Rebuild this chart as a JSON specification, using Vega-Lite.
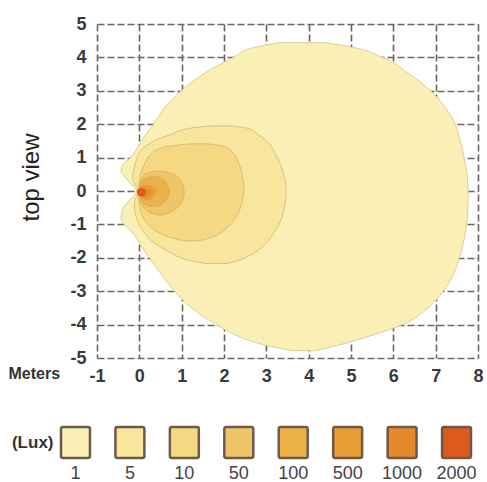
{
  "$schema": "https://vega.github.io/schema/vega-lite/v6.json",
  "padding": {"left": 8, "top": 15, "right": 0, "bottom": 0},
  "background": "white",
  "spacing": 40,
  "config": {"view": {"stroke": null}, "font": "Liberation Sans"},
  "datasets": {
    "contours": [
      {"lux": "1", "y": 4.44, "xl": 3.3, "xr": 4.4},
      {"lux": "1", "y": 4.3, "xl": 2.72, "xr": 5.05},
      {"lux": "1", "y": 4.0, "xl": 2.22, "xr": 5.75},
      {"lux": "1", "y": 3.5, "xl": 1.51, "xr": 6.38},
      {"lux": "1", "y": 3.0, "xl": 0.99, "xr": 6.88},
      {"lux": "1", "y": 2.5, "xl": 0.6, "xr": 7.23},
      {"lux": "1", "y": 2.0, "xl": 0.33, "xr": 7.46},
      {"lux": "1", "y": 1.5, "xl": 0.05, "xr": 7.58},
      {"lux": "1", "y": 1.2, "xl": -0.09, "xr": 7.64},
      {"lux": "1", "y": 1.0, "xl": -0.21, "xr": 7.67},
      {"lux": "1", "y": 0.8, "xl": -0.38, "xr": 7.7},
      {"lux": "1", "y": 0.6, "xl": -0.43, "xr": 7.73},
      {"lux": "1", "y": 0.4, "xl": -0.33, "xr": 7.75},
      {"lux": "1", "y": 0.2, "xl": -0.19, "xr": 7.76},
      {"lux": "1", "y": 0.0, "xl": -0.07, "xr": 7.77},
      {"lux": "1", "y": -0.2, "xl": -0.17, "xr": 7.77},
      {"lux": "1", "y": -0.4, "xl": -0.32, "xr": 7.76},
      {"lux": "1", "y": -0.6, "xl": -0.41, "xr": 7.76},
      {"lux": "1", "y": -0.8, "xl": -0.43, "xr": 7.75},
      {"lux": "1", "y": -1.0, "xl": -0.36, "xr": 7.73},
      {"lux": "1", "y": -1.2, "xl": -0.2, "xr": 7.71},
      {"lux": "1", "y": -1.4, "xl": -0.07, "xr": 7.68},
      {"lux": "1", "y": -1.6, "xl": 0.02, "xr": 7.65},
      {"lux": "1", "y": -2.0, "xl": 0.24, "xr": 7.56},
      {"lux": "1", "y": -2.5, "xl": 0.52, "xr": 7.42},
      {"lux": "1", "y": -3.0, "xl": 0.83, "xr": 7.18},
      {"lux": "1", "y": -3.5, "xl": 1.23, "xr": 6.82},
      {"lux": "1", "y": -4.0, "xl": 1.82, "xr": 6.22},
      {"lux": "1", "y": -4.3, "xl": 2.25, "xr": 5.55},
      {"lux": "1", "y": -4.6, "xl": 2.93, "xr": 4.75},
      {"lux": "1", "y": -4.78, "xl": 3.6, "xr": 4.15},

      {"lux": "5", "y": 1.95, "xl": 1.65, "xr": 2.2},
      {"lux": "5", "y": 1.88, "xl": 1.2, "xr": 2.55},
      {"lux": "5", "y": 1.7, "xl": 0.76, "xr": 2.8},
      {"lux": "5", "y": 1.5, "xl": 0.35, "xr": 3.0},
      {"lux": "5", "y": 1.37, "xl": 0.18, "xr": 3.1},
      {"lux": "5", "y": 1.2, "xl": 0.02, "xr": 3.18},
      {"lux": "5", "y": 1.0, "xl": -0.05, "xr": 3.26},
      {"lux": "5", "y": 0.7, "xl": -0.12, "xr": 3.36},
      {"lux": "5", "y": 0.4, "xl": -0.16, "xr": 3.43},
      {"lux": "5", "y": 0.2, "xl": -0.1, "xr": 3.46},
      {"lux": "5", "y": 0.0, "xl": -0.03, "xr": 3.47},
      {"lux": "5", "y": -0.2, "xl": -0.08, "xr": 3.46},
      {"lux": "5", "y": -0.4, "xl": -0.12, "xr": 3.44},
      {"lux": "5", "y": -0.65, "xl": -0.1, "xr": 3.4},
      {"lux": "5", "y": -1.0, "xl": 0.0, "xr": 3.3},
      {"lux": "5", "y": -1.3, "xl": 0.15, "xr": 3.15},
      {"lux": "5", "y": -1.6, "xl": 0.4, "xr": 2.97},
      {"lux": "5", "y": -1.85, "xl": 0.75, "xr": 2.72},
      {"lux": "5", "y": -2.05, "xl": 1.1, "xr": 2.4},
      {"lux": "5", "y": -2.17, "xl": 1.55, "xr": 2.1},

      {"lux": "10", "y": 1.41, "xl": 1.2, "xr": 1.65},
      {"lux": "10", "y": 1.35, "xl": 0.75, "xr": 1.95},
      {"lux": "10", "y": 1.25, "xl": 0.45, "xr": 2.12},
      {"lux": "10", "y": 1.1, "xl": 0.28, "xr": 2.24},
      {"lux": "10", "y": 0.8, "xl": 0.12, "xr": 2.36},
      {"lux": "10", "y": 0.5, "xl": 0.03, "xr": 2.43},
      {"lux": "10", "y": 0.2, "xl": -0.01, "xr": 2.46},
      {"lux": "10", "y": 0.0, "xl": -0.02, "xr": 2.47},
      {"lux": "10", "y": -0.3, "xl": -0.01, "xr": 2.43},
      {"lux": "10", "y": -0.6, "xl": 0.03, "xr": 2.36},
      {"lux": "10", "y": -0.9, "xl": 0.14, "xr": 2.22},
      {"lux": "10", "y": -1.2, "xl": 0.4, "xr": 1.98},
      {"lux": "10", "y": -1.4, "xl": 0.76, "xr": 1.68},
      {"lux": "10", "y": -1.49, "xl": 1.05, "xr": 1.4},

      {"lux": "50", "y": 0.6, "xl": 0.38, "xr": 0.58},
      {"lux": "50", "y": 0.5, "xl": 0.12, "xr": 0.82},
      {"lux": "50", "y": 0.3, "xl": 0.03, "xr": 0.98},
      {"lux": "50", "y": 0.1, "xl": 0.0, "xr": 1.05},
      {"lux": "50", "y": -0.1, "xl": 0.0, "xr": 1.06},
      {"lux": "50", "y": -0.3, "xl": 0.02, "xr": 1.02},
      {"lux": "50", "y": -0.5, "xl": 0.1, "xr": 0.9},
      {"lux": "50", "y": -0.65, "xl": 0.25, "xr": 0.72},
      {"lux": "50", "y": -0.72, "xl": 0.42, "xr": 0.55},

      {"lux": "100", "y": 0.43, "xl": 0.25, "xr": 0.42},
      {"lux": "100", "y": 0.35, "xl": 0.08, "xr": 0.56},
      {"lux": "100", "y": 0.2, "xl": 0.03, "xr": 0.66},
      {"lux": "100", "y": 0.0, "xl": 0.02, "xr": 0.71},
      {"lux": "100", "y": -0.2, "xl": 0.03, "xr": 0.67},
      {"lux": "100", "y": -0.35, "xl": 0.09, "xr": 0.56},
      {"lux": "100", "y": -0.46, "xl": 0.25, "xr": 0.42},

      {"lux": "500", "y": 0.19, "xl": 0.1, "xr": 0.22},
      {"lux": "500", "y": 0.1, "xl": 0.0, "xr": 0.35},
      {"lux": "500", "y": 0.0, "xl": -0.02, "xr": 0.4},
      {"lux": "500", "y": -0.1, "xl": -0.01, "xr": 0.38},
      {"lux": "500", "y": -0.2, "xl": 0.05, "xr": 0.3},
      {"lux": "500", "y": -0.27, "xl": 0.13, "xr": 0.2},

      {"lux": "1000", "y": 0.11, "xl": 0.04, "xr": 0.14},
      {"lux": "1000", "y": 0.0, "xl": -0.02, "xr": 0.27},
      {"lux": "1000", "y": -0.1, "xl": 0.0, "xr": 0.25},
      {"lux": "1000", "y": -0.19, "xl": 0.06, "xr": 0.14},

      {"lux": "2000", "y": 0.08, "xl": 0.0, "xr": 0.08},
      {"lux": "2000", "y": 0.0, "xl": -0.06, "xr": 0.15},
      {"lux": "2000", "y": -0.1, "xl": -0.05, "xr": 0.14},
      {"lux": "2000", "y": -0.16, "xl": 0.01, "xr": 0.08}
    ],
    "legend": [
      {"lux": "1", "unit": "(Lux)"},
      {"lux": "5", "unit": "(Lux)"},
      {"lux": "10", "unit": "(Lux)"},
      {"lux": "50", "unit": "(Lux)"},
      {"lux": "100", "unit": "(Lux)"},
      {"lux": "500", "unit": "(Lux)"},
      {"lux": "1000", "unit": "(Lux)"},
      {"lux": "2000", "unit": "(Lux)"}
    ]
  },
  "vconcat": [
    {
      "width": 381,
      "height": 334,
      "data": {"name": "contours"},
      "encoding": {
        "y": {
          "field": "y", "type": "quantitative",
          "scale": {"domain": [-5, 5], "nice": false},
          "axis": {
            "values": [-5, -4, -3, -2, -1, 0, 1, 2, 3, 4, 5],
            "labelExpr": "'' + datum.value",
            "title": "top view", "titleFontSize": 24, "titleFontWeight": "normal", "titleColor": "#222",
            "titleX": -66, "titleY": 153, "titleAngle": -90, "titleBaseline": "middle", "titleAlign": "center",
            "grid": true, "gridColor": "#6f6363", "gridWidth": 1.6, "gridDash": [7, 3],
            "domain": false, "ticks": false,
            "labelFontSize": 18, "labelFontWeight": "bold", "labelColor": "#3a3a3a",
            "labelPadding": 11, "labelFlush": false, "labelOverlap": false
          }
        },
        "x": {
          "field": "xl", "type": "quantitative",
          "scale": {"domain": [-1, 8], "nice": false},
          "axis": {
            "values": [-1, 0, 1, 2, 3, 4, 5, 6, 7, 8],
            "labelExpr": "'' + datum.value",
            "title": "Meters", "titleFontSize": 16, "titleFontWeight": "bold", "titleColor": "#333",
            "titleX": -89, "titleY": 15, "titleAlign": "left", "titleBaseline": "middle",
            "grid": true, "gridColor": "#6f6363", "gridWidth": 1.6, "gridDash": [7, 3],
            "domain": false, "ticks": false,
            "labelFontSize": 18, "labelFontWeight": "bold", "labelColor": "#3a3a3a",
            "labelPadding": 9, "labelFlush": false, "labelOverlap": false
          }
        },
        "x2": {"field": "xr"},
        "color": {
          "field": "lux", "type": "nominal",
          "scale": {
            "domain": ["1", "5", "10", "50", "100", "500", "1000", "2000"],
            "range": ["#faf0b6", "#f7e69b", "#f5d982", "#f0c468", "#ecb24a", "#e89e35", "#e48a2c", "#dc5a1c"]
          },
          "legend": null
        }
      },
      "layer": [
        {"transform": [{"filter": "datum.lux === '1'"}], "mark": {"type": "area", "orient": "horizontal", "interpolate": "monotone", "stroke": "#d6c284", "strokeWidth": 0.8}},
        {"transform": [{"filter": "datum.lux === '5'"}], "mark": {"type": "area", "orient": "horizontal", "interpolate": "monotone", "stroke": "#cdb77a", "strokeWidth": 0.8}},
        {"transform": [{"filter": "datum.lux === '10'"}], "mark": {"type": "area", "orient": "horizontal", "interpolate": "monotone", "stroke": "#cdb277", "strokeWidth": 0.8}},
        {"transform": [{"filter": "datum.lux === '50'"}], "mark": {"type": "area", "orient": "horizontal", "interpolate": "monotone", "stroke": "#d5a65a", "strokeWidth": 0.6}},
        {"transform": [{"filter": "datum.lux === '100'"}], "mark": {"type": "area", "orient": "horizontal", "interpolate": "monotone", "stroke": "#d99b40", "strokeWidth": 0.5}},
        {"transform": [{"filter": "datum.lux === '500'"}], "mark": {"type": "area", "orient": "horizontal", "interpolate": "monotone"}},
        {"transform": [{"filter": "datum.lux === '1000'"}], "mark": {"type": "area", "orient": "horizontal", "interpolate": "monotone"}},
        {"transform": [{"filter": "datum.lux === '2000'"}], "mark": {"type": "area", "orient": "horizontal", "interpolate": "monotone"}}
      ]
    },
    {
      "width": 374,
      "height": 31,
      "data": {"name": "legend"},
      "mark": {"type": "rect", "stroke": "#6e5a4a", "strokeWidth": 2.5, "cornerRadius": 2},
      "encoding": {
        "x": {
          "field": "lux", "type": "nominal", "sort": null,
          "scale": {"domain": ["1", "5", "10", "50", "100", "500", "1000", "2000"], "range": [-36, 374], "paddingInner": 0.468, "paddingOuter": 0},
          "axis": {"title": null, "domain": false, "ticks": false, "labelAngle": 0, "labelFontSize": 18, "labelColor": "#444", "labelPadding": 6}
        },
        "y": {
          "field": "unit", "type": "nominal",
          "scale": {"paddingInner": 0, "paddingOuter": 0},
          "axis": {"title": null, "domain": false, "ticks": false, "labelFontSize": 17, "labelFontWeight": "bold", "labelColor": "#333", "labelPadding": 44}
        },
        "color": {
          "field": "lux", "type": "nominal",
          "scale": {
            "domain": ["1", "5", "10", "50", "100", "500", "1000", "2000"],
            "range": ["#f7efb7", "#f5e89c", "#f2d985", "#ebc066", "#eab34c", "#e79e32", "#e38b2c", "#d4611f"]
          },
          "legend": null
        }
      }
    }
  ]
}
